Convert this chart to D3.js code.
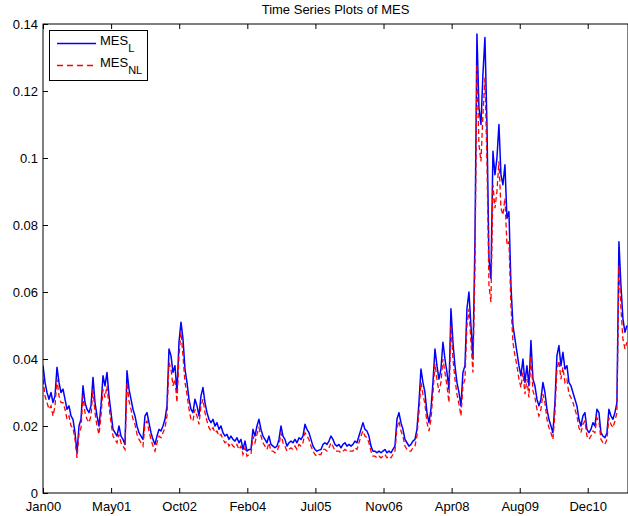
<!DOCTYPE html>
<html>
<head>
<meta charset="utf-8">
<script src="https://cdn.jsdelivr.net/npm/d3@7"></script>
<style>
   body { margin: 0; background: #fff; }
   svg { font-family: "Liberation Sans", Arial, Helvetica, sans-serif; }
</style>
</head>
<body>
<svg id="chart" width="628" height="516"></svg>
<script>
// SAMPLES TAKEN ROUGHLY EVERY TWO WEEKS, STARTING JAN 3 2000
var startDate = '2000-01-03';
var stepDays = 14.74;

// MES, LINEAR MODEL
var mesL = [0.038,0.033,0.030,0.028,0.030,0.027,0.029,0.0375,0.033,0.030,
0.031,0.028,0.025,0.026,0.023,0.022,0.018,0.012,0.020,0.022,
0.032,0.027,0.025,0.024,0.026,0.0345,0.027,0.023,0.020,0.026,
0.035,0.032,0.036,0.029,0.024,0.019,0.018,0.017,0.020,0.017,
0.016,0.0145,0.0365,0.031,0.028,0.025,0.023,0.020,0.018,0.017,
0.016,0.023,0.024,0.021,0.018,0.016,0.0145,0.017,0.019,0.0185,
0.020,0.022,0.026,0.043,0.041,0.036,0.038,0.030,0.045,0.051,
0.046,0.037,0.033,0.028,0.025,0.024,0.028,0.026,0.023,0.029,
0.0315,0.027,0.024,0.022,0.021,0.022,0.020,0.021,0.019,0.020,
0.018,0.017,0.0175,0.016,0.017,0.016,0.0155,0.0165,0.015,0.016,
0.013,0.0155,0.0125,0.013,0.013,0.019,0.017,0.020,0.022,0.019,
0.017,0.016,0.015,0.017,0.0145,0.014,0.0135,0.014,0.016,0.020,
0.017,0.016,0.014,0.015,0.0155,0.015,0.016,0.015,0.0165,0.016,
0.017,0.0205,0.019,0.018,0.016,0.014,0.013,0.0125,0.0128,0.013,
0.0145,0.015,0.0145,0.0155,0.017,0.016,0.0145,0.014,0.0145,0.0135,
0.0145,0.015,0.014,0.0145,0.014,0.0145,0.0155,0.015,0.017,0.019,
0.021,0.019,0.0185,0.017,0.014,0.0125,0.0125,0.012,0.0125,0.012,
0.0125,0.013,0.012,0.0125,0.012,0.013,0.014,0.022,0.024,0.021,
0.019,0.016,0.015,0.014,0.0145,0.0155,0.016,0.019,0.027,0.037,
0.033,0.030,0.024,0.021,0.025,0.033,0.043,0.038,0.034,0.037,
0.045,0.040,0.036,0.031,0.055,0.045,0.038,0.033,0.030,0.026,
0.036,0.038,0.055,0.060,0.050,0.040,0.075,0.137,0.115,0.110,
0.125,0.136,0.110,0.070,0.064,0.102,0.095,0.100,0.110,0.095,
0.092,0.098,0.082,0.084,0.062,0.050,0.046,0.042,0.038,0.035,
0.040,0.033,0.038,0.032,0.0455,0.034,0.032,0.028,0.026,0.028,
0.033,0.030,0.025,0.022,0.020,0.018,0.027,0.041,0.044,0.038,
0.042,0.037,0.038,0.033,0.032,0.030,0.028,0.026,0.022,0.020,
0.023,0.024,0.019,0.018,0.019,0.021,0.020,0.025,0.024,0.018,
0.017,0.0165,0.018,0.025,0.023,0.022,0.024,0.027,0.075,0.062,
0.052,0.048,0.050];

// MES, NON-LINEAR MODEL
var mesNL = [0.034,0.029,0.027,0.025,0.026,0.023,0.026,0.034,0.029,0.027,
0.027,0.025,0.022,0.023,0.020,0.0195,0.016,0.0105,0.0175,0.0195,
0.029,0.024,0.022,0.021,0.023,0.031,0.024,0.020,0.0175,0.023,
0.031,0.0285,0.032,0.026,0.021,0.017,0.016,0.015,0.0175,0.015,
0.014,0.013,0.033,0.0275,0.025,0.022,0.0205,0.0175,0.016,0.015,
0.014,0.0205,0.0215,0.0185,0.016,0.014,0.0125,0.015,0.017,0.0165,
0.018,0.0195,0.023,0.039,0.037,0.032,0.034,0.027,0.041,0.048,
0.041,0.033,0.0295,0.025,0.022,0.0215,0.025,0.023,0.0205,0.026,
0.028,0.024,0.0215,0.0195,0.0185,0.0195,0.018,0.0185,0.017,0.0175,
0.016,0.015,0.0155,0.014,0.015,0.014,0.0135,0.0145,0.013,0.014,
0.0115,0.0135,0.011,0.0115,0.0115,0.017,0.015,0.0175,0.0195,0.017,
0.015,0.014,0.013,0.015,0.0125,0.0125,0.012,0.0125,0.014,0.018,
0.015,0.014,0.0125,0.013,0.0135,0.013,0.014,0.013,0.0145,0.014,
0.015,0.018,0.017,0.016,0.014,0.0125,0.0115,0.011,0.0115,0.0115,
0.013,0.013,0.0125,0.0135,0.015,0.014,0.0125,0.0125,0.0125,0.012,
0.0125,0.013,0.0125,0.0125,0.0125,0.0125,0.0135,0.013,0.015,0.017,
0.0185,0.017,0.0165,0.015,0.0125,0.011,0.011,0.0105,0.011,0.0105,
0.011,0.0115,0.0105,0.011,0.0105,0.0115,0.0125,0.0195,0.0215,0.0185,
0.017,0.014,0.013,0.0125,0.0125,0.0135,0.014,0.017,0.024,0.033,
0.0295,0.0265,0.021,0.0185,0.022,0.0295,0.0385,0.034,0.030,0.033,
0.040,0.036,0.032,0.027,0.050,0.040,0.034,0.0295,0.0265,0.023,
0.032,0.034,0.050,0.055,0.045,0.036,0.067,0.128,0.104,0.099,
0.113,0.124,0.099,0.062,0.057,0.092,0.085,0.090,0.099,0.085,
0.083,0.088,0.074,0.075,0.056,0.045,0.041,0.038,0.034,0.0315,
0.036,0.0295,0.034,0.0285,0.041,0.0305,0.0285,0.025,0.023,0.025,
0.0295,0.027,0.022,0.0195,0.018,0.016,0.024,0.037,0.0395,0.034,
0.0375,0.033,0.034,0.0295,0.0285,0.027,0.025,0.023,0.0195,0.018,
0.0205,0.0215,0.017,0.016,0.017,0.0185,0.018,0.0225,0.0215,0.016,
0.015,0.0145,0.016,0.0225,0.0205,0.0195,0.0215,0.024,0.068,0.055,
0.046,0.043,0.045];

// AXIS SETUP
var xDomain = ['2000-01-03', '2011-10-24'];
var xTickDates = ['2000-01-03','2001-05-19','2002-10-03','2004-02-17','2005-07-03','2006-11-17','2008-04-02','2009-08-17','2010-12-31'];
var xTickLabels = ['Jan00','May01','Oct02','Feb04','Jul05','Nov06','Apr08','Aug09','Dec10'];
var yTicks = [0, 0.02, 0.04, 0.06, 0.08, 0.1, 0.12, 0.14];
var yTickLabels = ['0','0.02','0.04','0.06','0.08','0.1','0.12','0.14'];
var seriesNames = ['L', 'NL'];
var title = 'Time Series Plots of MES';

// SETTINGS OBJECT
var settings = {
   left: 43, top: 24, right: 628, bottom: 493,
   tick: 5,
   font: 13,
   blue: '#0000ff',
   red: '#ff0000'
}

var t0 = new Date(startDate).getTime();
var dates = mesL.map((d, i) => new Date(t0 + i * stepDays * 864e5));

var xScale = d3.scaleUtc()
   .domain(xDomain.map(d => new Date(d)))
   .range([settings.left, settings.right])

var yScale = d3.scaleLinear()
   .domain([0, 0.14])
   .range([settings.bottom, settings.top])

var svg = d3.select('#chart')

// CLIP DATA TO AXES BOX
svg.append('clipPath').attr('id', 'clip')
   .append('rect')
   .attr('x', settings.left).attr('y', settings.top)
   .attr('width', settings.right - settings.left)
   .attr('height', settings.bottom - settings.top)

var pathify = d3.line()
   .x((d, i) => xScale(dates[i]))
   .y(d => yScale(d))

svg.append('path')
   .attr('clip-path', 'url(#clip)')
   .attr('fill', 'none')
   .style('stroke', settings.blue)
   .attr('stroke-width', 1.5)
   .attr('stroke-linejoin', 'round')
   .attr('d', pathify(mesL))

svg.append('path')
   .attr('clip-path', 'url(#clip)')
   .attr('fill', 'none')
   .style('stroke', settings.red)
   .attr('stroke-width', 1.3)
   .attr('stroke-dasharray', '5,3')
   .attr('d', pathify(mesNL))

// AXES, TICKS POINT INWARD LIKE MATLAB
var xTicks = xTickDates.map(d => new Date(d));

svg.append('g')
   .attr('transform', 'translate(0,' + settings.bottom + ')')
   .call(d3.axisBottom(xScale).tickValues(xTicks).tickSizeInner(-settings.tick).tickSizeOuter(0).tickPadding(9)
      .tickFormat((d, i) => xTickLabels[i]))

svg.append('g')
   .attr('transform', 'translate(0,' + settings.top + ')')
   .call(d3.axisTop(xScale).tickValues(xTicks).tickSizeInner(-settings.tick).tickSizeOuter(0).tickFormat(''))

svg.append('g')
   .attr('transform', 'translate(' + settings.left + ',0)')
   .call(d3.axisLeft(yScale).tickValues(yTicks).tickSizeInner(-settings.tick).tickSizeOuter(0).tickPadding(5)
      .tickFormat((d, i) => yTickLabels[i]))

svg.selectAll('.tick text').attr('font-size', settings.font).attr('font-family', null).attr('fill', '#000')
svg.selectAll('.tick line').attr('stroke', '#000')
svg.selectAll('.domain').remove()

// AXES BOX
svg.append('rect')
   .attr('x', settings.left).attr('y', settings.top)
   .attr('width', settings.right - settings.left)
   .attr('height', settings.bottom - settings.top)
   .attr('fill', 'none')
   .attr('stroke', '#000')
   .attr('stroke-width', 1)

// TITLE
svg.append('text')
   .attr('x', (settings.left + settings.right) / 2)
   .attr('y', 14)
   .attr('text-anchor', 'middle')
   .attr('font-size', settings.font)
   .text(title)

// LEGEND
var legend = svg.append('g')
legend.append('rect')
   .attr('x', 49.5).attr('y', 30.5).attr('width', 98).attr('height', 50)
   .attr('fill', '#fff').attr('stroke', '#000')

seriesNames.forEach((name, i) => {
   var cy = 43.5 + i * 22
   var line = legend.append('line')
      .attr('x1', 57).attr('x2', 96).attr('y1', cy).attr('y2', cy)
      .style('stroke', i === 0 ? settings.blue : settings.red)
      .style('stroke-width', '1.3px')
   if (i === 1) line.style('stroke-dasharray', '6,4')
   var label = legend.append('text')
      .attr('x', 100).attr('y', 45 + i * 22)
      .attr('font-size', settings.font)
   label.append('tspan').text('MES')
   label.append('tspan').attr('dy', 7).attr('font-size', 11).text(name)
})
</script>
</body>
</html>
